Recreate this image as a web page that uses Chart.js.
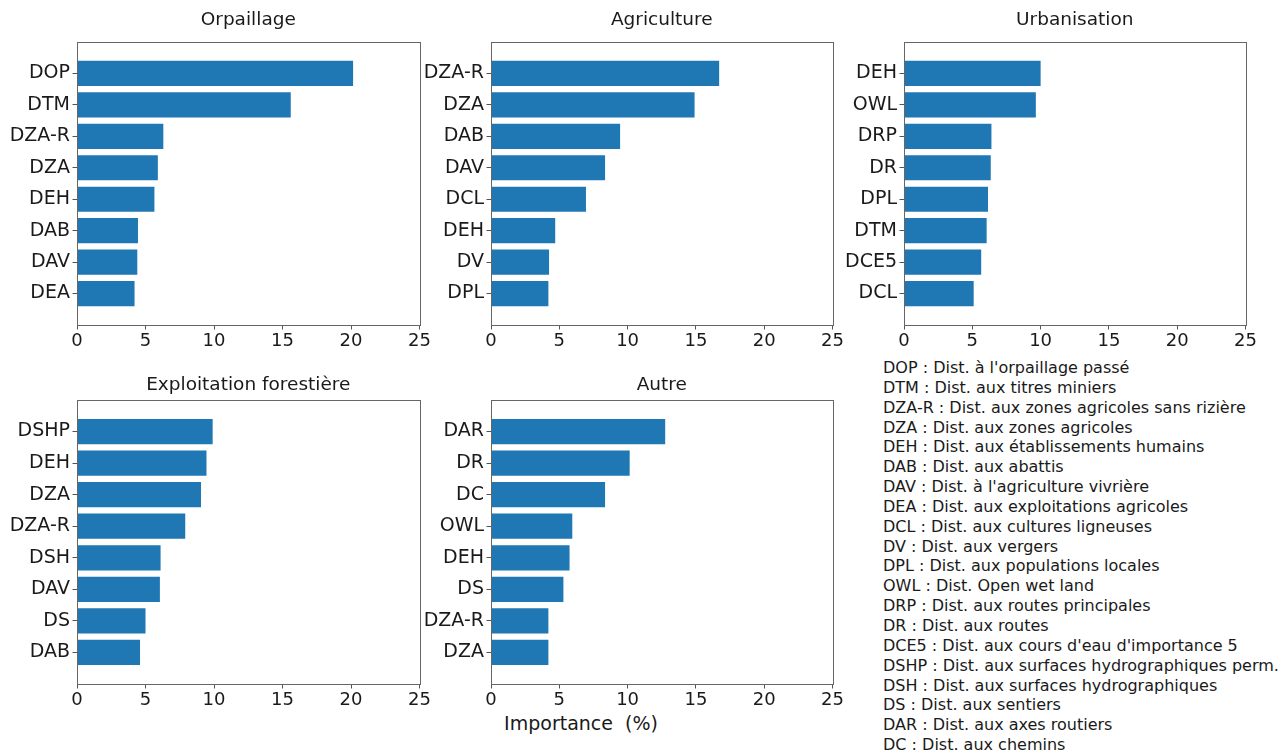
<!DOCTYPE html>
<html>
<head>
<meta charset="utf-8">
<script src="https://cdn.jsdelivr.net/npm/chart.js@4"></script>
<style>
  body { margin: 0; background: #fff; width: 1283px; height: 753px; overflow: hidden; position: relative; font-family: "DejaVu Sans", sans-serif; color: #1a1a1a; }
  .panel { position: absolute; }
  #legend { position: absolute; left: 883px; top: 358px; font-size: 16px; line-height: 19.84px; white-space: nowrap; }
  #xlabel { position: absolute; left: 481px; width: 200px; top: 711px; text-align: center; font-size: 19px; line-height: 24px; white-space: pre; }
</style>
</head>
<body>
<div id="legend"></div>
<div id="xlabel">Importance  (%)</div>
<script>
// valeurs (importance en %)
const orpLabels = ['DOP', 'DTM', 'DZA-R', 'DZA', 'DEH', 'DAB', 'DAV', 'DEA'];
const orpValues = [20.15, 15.6, 6.3, 5.9, 5.65, 4.45, 4.4, 4.2];

const agrLabels = ['DZA-R', 'DZA', 'DAB', 'DAV', 'DCL', 'DEH', 'DV', 'DPL'];
const agrValues = [16.7, 14.9, 9.45, 8.35, 6.95, 4.7, 4.25, 4.2];

const urbLabels = ['DEH', 'OWL', 'DRP', 'DR', 'DPL', 'DTM', 'DCE5', 'DCL'];
const urbValues = [10.0, 9.65, 6.4, 6.35, 6.15, 6.05, 5.65, 5.1];

const forLabels = ['DSHP', 'DEH', 'DZA', 'DZA-R', 'DSH', 'DAV', 'DS', 'DAB'];
const forValues = [9.9, 9.45, 9.05, 7.9, 6.1, 6.05, 5.0, 4.6];

const autLabels = ['DAR', 'DR', 'DC', 'OWL', 'DEH', 'DS', 'DZA-R', 'DZA'];
const autValues = [12.75, 10.15, 8.35, 5.95, 5.75, 5.3, 4.2, 4.2];

const xMax = 25;
const xStep = 5;

const legendLines = [
  "DOP : Dist. à l'orpaillage passé",
  "DTM : Dist. aux titres miniers",
  "DZA-R : Dist. aux zones agricoles sans rizière",
  "DZA : Dist. aux zones agricoles",
  "DEH : Dist. aux établissements humains",
  "DAB : Dist. aux abattis",
  "DAV : Dist. à l'agriculture vivrière",
  "DEA : Dist. aux exploitations agricoles",
  "DCL : Dist. aux cultures ligneuses",
  "DV : Dist. aux vergers",
  "DPL : Dist. aux populations locales",
  "OWL : Dist. Open wet land",
  "DRP : Dist. aux routes principales",
  "DR : Dist. aux routes",
  "DCE5 : Dist. aux cours d'eau d'importance 5",
  "DSHP : Dist. aux surfaces hydrographiques perm.",
  "DSH : Dist. aux surfaces hydrographiques",
  "DS : Dist. aux sentiers",
  "DAR : Dist. aux axes routiers",
  "DC : Dist. aux chemins"
];

document.getElementById('legend').innerHTML = legendLines.map(l => `<div>${l}</div>`).join('');

const FONT = "'DejaVu Sans', sans-serif";
const Y_W = 77, PAD_R = 10, X_H = 36, TOP = 42;

// cadre complet + titre centré sur la zone de tracé (style matplotlib)
const framePlugin = {
  id: 'frame',
  afterDraw(chart, args, opts) {
    const a = chart.chartArea, c = chart.ctx;
    c.save();
    c.strokeStyle = '#666';
    c.lineWidth = 1;
    c.strokeRect(Math.round(a.left) + 0.5, Math.round(a.top) + 0.5, Math.round(a.right - a.left), Math.round(a.bottom - a.top));
    c.fillStyle = '#1a1a1a';
    c.font = `18.5px ${FONT}`;
    c.textAlign = 'center';
    c.textBaseline = 'alphabetic';
    c.fillText(opts.text, (a.left + a.right) / 2, a.top - opts.gap);
    c.restore();
  }
};

function makePanel(title, labels, values, box, titleGap) {
  const w = box.r - box.l + Y_W + PAD_R;
  const h = box.b - box.t + TOP + X_H;
  const div = document.createElement('div');
  div.className = 'panel';
  div.style.left = (box.l - Y_W) + 'px';
  div.style.top = (box.t - TOP) + 'px';
  const cv = document.createElement('canvas');
  cv.width = w; cv.height = h;
  cv.style.width = w + 'px'; cv.style.height = h + 'px';
  div.appendChild(cv);
  document.body.appendChild(div);

  new Chart(cv.getContext('2d'), {
    type: 'bar',
    data: {
      datasets: [{
        data: values.map((v, i) => ({ x: v, y: i })),
        backgroundColor: '#1f77b4',
        borderWidth: 0,
        barPercentage: 1,
        categoryPercentage: 0.8
      }]
    },
    options: {
      indexAxis: 'y',
      responsive: false,
      animation: false,
      devicePixelRatio: 1,
      layout: { padding: { left: 0, right: PAD_R, top: TOP, bottom: 0 } },
      plugins: {
        legend: { display: false },
        tooltip: { enabled: false },
        title: { display: false },
        frame: { text: title, gap: titleGap }
      },
      scales: {
        x: {
          type: 'linear',
          position: 'bottom',
          min: 0, max: xMax,
          afterFit(s) { s.height = X_H; },
          ticks: { stepSize: xStep, color: '#1a1a1a', padding: 1, font: { family: FONT, size: 18 }, maxRotation: 0 },
          grid: { drawOnChartArea: false, drawTicks: true, tickLength: 4.5, color: '#555' },
          border: { display: false }
        },
        y: {
          type: 'linear',
          position: 'left',
          reverse: true,
          offset: false,
          min: -1, max: labels.length,
          afterFit(s) { s.width = Y_W; },
          afterBuildTicks(s) { s.ticks = labels.map((l, i) => ({ value: i })); },
          ticks: {
            autoSkip: false,
            color: '#1a1a1a',
            padding: 2.5,
            font: { family: FONT, size: 19 },
            callback: (v) => labels[v]
          },
          grid: { offset: false, drawOnChartArea: false, drawTicks: true, tickLength: 4.5, color: '#555' },
          border: { display: false }
        }
      }
    },
    plugins: [framePlugin]
  });
}

// gap = distance entre la ligne de base du titre et le haut du cadre
makePanel('Orpaillage', orpLabels, orpValues, { l: 77, r: 422, t: 42, b: 325 }, 17.5);
makePanel('Agriculture', agrLabels, agrValues, { l: 491, r: 835, t: 42, b: 325 }, 17.5);
makePanel('Urbanisation', urbLabels, urbValues, { l: 904, r: 1248, t: 42, b: 325 }, 17.5);
makePanel('Exploitation forestière', forLabels, forValues, { l: 77, r: 422, t: 400, b: 684 }, 10.3);
makePanel('Autre', autLabels, autValues, { l: 491, r: 835, t: 400, b: 684 }, 10.3);
</script>
</body>
</html>
